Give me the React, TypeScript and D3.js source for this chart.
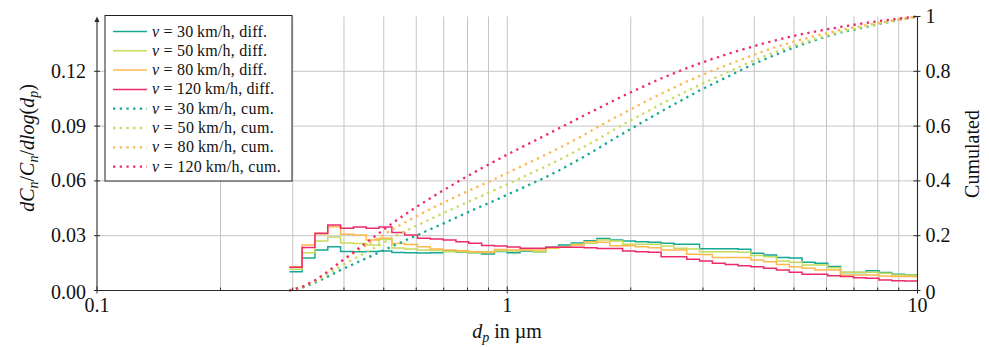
import React from "react";
import * as d3 from "d3";

// bin edges (µm), 32 bins per decade read from the steps
const binEdges = [
  0.2943, 0.3162, 0.3398, 0.3652, 0.3924, 0.4217, 0.4532, 0.487, 0.5233, 0.5623,
  0.6043, 0.6494, 0.6978, 0.7499, 0.8058, 0.866, 0.9306, 1.0, 1.0746, 1.1548,
  1.2409, 1.3335, 1.433, 1.5399, 1.6548, 1.7783, 1.911, 2.0535, 2.2067, 2.3714,
  2.5483, 2.7384, 2.9427, 3.1623, 3.3982, 3.6517, 3.9242, 4.217, 4.5316, 4.8697,
  5.233, 5.6234, 6.043, 6.4938, 6.9783, 7.4989, 8.0584, 8.6596, 9.3057, 10.0,
];

const diff30 = [0.0103,0.0178,0.0222,0.0240,0.0214,0.0212,0.0214,0.0216,0.0208,0.0207,0.0205,0.0207,0.0216,0.0211,0.0207,0.0200,0.0214,0.0207,0.0216,0.0212,0.0237,0.0249,0.0260,0.0273,0.0284,0.0276,0.0271,0.0267,0.0264,0.0258,0.0253,0.0253,0.0229,0.0229,0.0229,0.0226,0.0204,0.0194,0.0181,0.0178,0.0154,0.0149,0.0131,0.0099,0.0099,0.0108,0.0099,0.0089,0.0086];
const diff50 = [0.0116,0.0207,0.0271,0.0293,0.0260,0.0257,0.0249,0.0279,0.0233,0.0227,0.0222,0.0219,0.0212,0.0212,0.0208,0.0212,0.0216,0.0216,0.0222,0.0212,0.0231,0.0240,0.0253,0.0258,0.0276,0.0271,0.0253,0.0253,0.0253,0.0244,0.0231,0.0227,0.0212,0.0212,0.0212,0.0209,0.0191,0.0185,0.0162,0.0154,0.0140,0.0140,0.0125,0.0100,0.0100,0.0100,0.0094,0.0085,0.0085];
const diff80 = [0.0130,0.0249,0.0309,0.0349,0.0308,0.0304,0.0276,0.0286,0.0257,0.0252,0.0240,0.0227,0.0222,0.0218,0.0212,0.0208,0.0224,0.0222,0.0222,0.0222,0.0231,0.0240,0.0249,0.0267,0.0264,0.0245,0.0245,0.0240,0.0234,0.0222,0.0222,0.0198,0.0197,0.0180,0.0180,0.0180,0.0167,0.0158,0.0143,0.0130,0.0122,0.0112,0.0112,0.0085,0.0085,0.0085,0.0079,0.0076,0.0076];
const diff120 = [0.0127,0.0235,0.0313,0.0359,0.0341,0.0348,0.0341,0.0348,0.0318,0.0304,0.0286,0.0282,0.0276,0.0267,0.0258,0.0246,0.0244,0.0238,0.0231,0.0231,0.0237,0.0237,0.0237,0.0234,0.0230,0.0230,0.0216,0.0212,0.0209,0.0185,0.0185,0.0171,0.0162,0.0149,0.0143,0.0136,0.0130,0.0122,0.0112,0.0100,0.0089,0.0089,0.0081,0.0076,0.0070,0.0067,0.0058,0.0054,0.0052];

const speeds = ["30", "50", "80", "120"];
const colors = ["#16a894", "#c6dc5c", "#fdb84e", "#ee2a6a"];
const diffSeries = [diff30, diff50, diff80, diff120];

const leftTicks = [0, 0.03, 0.06, 0.09, 0.12];
const leftTickLabels = ["0.00", "0.03", "0.06", "0.09", "0.12"];
const rightTicks = [0, 0.2, 0.4, 0.6, 0.8, 1];
const rightTickLabels = ["0", "0.2", "0.4", "0.6", "0.8", "1"];
const xMajor = [0.1, 1, 10];
const xMajorLabels = ["0.1", "1", "10"];
const xMinor = [0.2, 0.3, 0.4, 0.5, 0.6, 0.7, 0.8, 0.9, 2, 3, 4, 5, 6, 7, 8, 9];

const W = 989, H = 347;
const L = 97, R = 917.5, T = 16.5, B = 290.5;
const FONT = "Liberation Serif";
const DOT = "2.3 4.4";

export default function App() {
  const x = d3.scaleLog().domain([0.1, 10]).range([L, R]);
  const yL = d3.scaleLinear().domain([0, 0.15]).range([B, T]);
  const yR = d3.scaleLinear().domain([0, 1]).range([B, T]);

  const stepLine = d3
    .line<[number, number]>()
    .x((d) => x(d[0]))
    .y((d) => yL(d[1]))
    .curve(d3.curveStepAfter);
  const cumLine = d3
    .line<[number, number]>()
    .x((d) => x(d[0]))
    .y((d) => yR(d[1]));

  const stepPaths = diffSeries.map((vals) => {
    const pts: [number, number][] = vals.map((v, i) => [binEdges[i], v]);
    pts.push([binEdges[vals.length], vals[vals.length - 1]]);
    return stepLine(pts) as string;
  });
  const cumPaths = diffSeries.map((vals) => {
    const cs = Array.from(d3.cumsum(vals));
    const total = cs[cs.length - 1];
    const pts: [number, number][] = [[binEdges[0], 0]];
    cs.forEach((c, i) => pts.push([binEdges[i + 1], c / total]));
    return cumLine(pts) as string;
  });

  const legendRows = [
    ...speeds.map((s, i) => ({ s, c: colors[i], kind: "diff.", dotted: false })),
    ...speeds.map((s, i) => ({ s, c: colors[i], kind: "cum.", dotted: true })),
  ];

  const gridC = "#c4c4c4";
  const axisC = "#2b2b2b";
  const tf = { fontFamily: FONT, fill: "#111" } as React.CSSProperties;

  return (
    <svg width={W} height={H} style={{ position: "absolute", left: 0, top: 0, background: "#fff" }}>
      <rect x={0} y={0} width={W} height={H} fill="#fff" />
      {/* grid */}
      {[...xMinor, 1].map((v) => (
        <line key={"gx" + v} x1={x(v)} x2={x(v)} y1={T} y2={B} stroke={gridC} strokeWidth={1} />
      ))}
      {leftTicks.slice(1).map((v) => (
        <line key={"gy" + v} x1={L} x2={R} y1={yL(v)} y2={yL(v)} stroke={gridC} strokeWidth={1} />
      ))}

      {/* data */}
      {stepPaths.map((d, i) => (
        <path key={"s" + i} d={d} fill="none" stroke={colors[i]} strokeWidth={1.5} />
      ))}
      {cumPaths.map((d, i) => (
        <path key={"c" + i} d={d} fill="none" stroke={colors[i]} strokeWidth={2.3} strokeDasharray={DOT} />
      ))}

      {/* axes */}
      <line x1={L} x2={R} y1={B} y2={B} stroke={axisC} strokeWidth={1.1} />
      <line x1={L} x2={L} y1={B} y2={T + 3} stroke={axisC} strokeWidth={1.1} />
      <path d={`M${L},${T} L${L - 2.6},${T + 5.5} L${L + 2.6},${T + 5.5} Z`} fill={axisC} />
      <line x1={R} x2={R} y1={B} y2={T} stroke={axisC} strokeWidth={1.1} />

      {/* left ticks */}
      {leftTicks.map((v, i) => (
        <g key={"lt" + v}>
          <line x1={L - 3} x2={L + 3} y1={yL(v)} y2={yL(v)} stroke={axisC} strokeWidth={1} />
          <text x={L - 11} y={yL(v) + 6.5 + (i === 0 ? 1.5 : 0)} textAnchor="end" fontSize={20} style={tf}>
            {leftTickLabels[i]}
          </text>
        </g>
      ))}
      {/* right ticks */}
      {rightTicks.map((v, i) => (
        <g key={"rt" + v}>
          <line x1={R - 4} x2={R + 3} y1={yR(v)} y2={yR(v)} stroke={axisC} strokeWidth={1} />
          <text x={R + 8} y={yR(v) + 6.5 + (i === 0 ? 1.5 : 0)} textAnchor="start" fontSize={20} style={tf}>
            {rightTickLabels[i]}
          </text>
        </g>
      ))}
      {/* x ticks */}
      {xMinor.map((v) => (
        <line key={"xm" + v} x1={x(v)} x2={x(v)} y1={B} y2={B - 3} stroke={axisC} strokeWidth={1} />
      ))}
      {xMajor.map((v, i) => (
        <g key={"xt" + v}>
          <line x1={x(v)} x2={x(v)} y1={B + 3} y2={B - 4} stroke={axisC} strokeWidth={1} />
          <text x={x(v)} y={B + 21} textAnchor="middle" fontSize={20} style={tf}>
            {xMajorLabels[i]}
          </text>
        </g>
      ))}

      {/* axis labels */}
      <text x={507} y={338} textAnchor="middle" fontSize={20} style={tf}>
        <tspan fontStyle="italic">d</tspan>
        <tspan fontStyle="italic" fontSize={14} dy={4}>p</tspan>
        <tspan dy={-4}> in µm</tspan>
      </text>
      <text transform="translate(34,148) rotate(-90)" textAnchor="middle" fontSize={20} style={tf}>
        <tspan fontStyle="italic">dC</tspan>
        <tspan fontStyle="italic" fontSize={14} dy={4}>n</tspan>
        <tspan dy={-4}>/</tspan>
        <tspan fontStyle="italic">C</tspan>
        <tspan fontStyle="italic" fontSize={14} dy={4}>n</tspan>
        <tspan dy={-4}>/</tspan>
        <tspan fontStyle="italic">dlog</tspan>
        <tspan>(</tspan>
        <tspan fontStyle="italic">d</tspan>
        <tspan fontStyle="italic" fontSize={14} dy={4}>p</tspan>
        <tspan dy={-4}>)</tspan>
      </text>
      <text transform="translate(979,154) rotate(-90)" textAnchor="middle" fontSize={20} style={tf}>
        Cumulated
      </text>

      {/* legend */}
      <rect x={105} y={15.5} width={187} height={165.5} fill="#fff" stroke="#222" strokeWidth={1} />
      {legendRows.map((r, i) => {
        const cy = 31.5 + i * 19.3;
        const len = 115 + (r.s.length - 2) * 7 + (r.kind === "cum." ? 6.7 : 0);
        return (
          <g key={"lg" + i}>
            <line
              x1={113}
              x2={147}
              y1={cy}
              y2={cy}
              stroke={r.c}
              strokeWidth={r.dotted ? 2.3 : 1.5}
              strokeDasharray={r.dotted ? DOT : undefined}
            />
            <text x={152} y={cy + 5} fontSize={16} textLength={len} lengthAdjust="spacing" style={tf}>
              <tspan fontStyle="italic">v</tspan>
              <tspan>{` = ${r.s}\u2009km/h, ${r.kind}`}</tspan>
            </text>
          </g>
        );
      })}
    </svg>
  );
}
